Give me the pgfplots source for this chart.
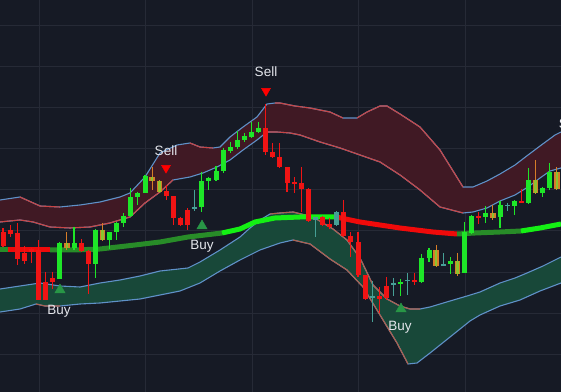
\documentclass[border=0pt]{standalone}
\usepackage{fontspec}
\setmainfont{Liberation Sans}
\usepackage{pgfplots}
\usepackage{pgfplotstable}
\pgfplotsset{compat=1.18}
\usepgfplotslibrary{fillbetween}
\definecolor{bg}{RGB}{22,26,37}
\definecolor{gridc}{RGB}{38,42,54}
\definecolor{upfill}{RGB}{64,25,36}
\definecolor{lofill}{RGB}{24,72,57}
\definecolor{bandblue}{RGB}{95,145,200}
\definecolor{bandred}{RGB}{200,70,70}
\definecolor{bandbrown}{RGB}{175,95,75}
\definecolor{mdark}{RGB}{40,140,40}
\definecolor{mbright}{RGB}{20,240,20}
\definecolor{mred}{RGB}{240,10,10}
\definecolor{cg}{RGB}{30,230,40}
\definecolor{cr}{RGB}{240,20,20}
\definecolor{co}{RGB}{215,125,40}
\definecolor{coin}{RGB}{140,195,45}
\definecolor{ct}{RGB}{70,160,150}
\definecolor{buyc}{RGB}{40,150,70}
\definecolor{sellc}{RGB}{255,0,0}
\definecolor{txt}{RGB}{228,230,236}

% candles: x, body top, body bottom, wick high, wick low (pixel rows)
\pgfplotstableread{
x t b h l
59.8 243 279 242 279
74.0 243 248 227 250
95.3 230 264 229 278
109.5 232 240 232 249
116.6 223 232 222 240
123.7 216 223 213 227
130.8 197 216 188 217
137.9 193 197 192 205
145.0 176 193 175 193
201.8 181 207 172 212
208.9 178 181 177 190
216.0 171 180 166 181
223.1 150 171 148 173
230.2 147 151 142 153
237.3 140 147 131 149
244.4 136 140 133 142
251.5 132 137 122 138
258.6 128 132 122 133
400.6 282 284 279 296
421.9 258 282 254 283
429.0 250 258 248 262
450.3 261 264 257 274
464.5 232 273 222 273
471.6 216 233 215 234
485.8 213 217 206 223
500.0 205 217 201 228
514.2 201 206 200 215
528.4 180 203 168 204
542.6 188 193 187 197
549.7 172 188 163 190
}\tG
\pgfplotstableread{
x t b h l
3.0 232 246 228 247
10.1 230 234 225 237
17.2 233 259 223 265
24.3 253 261 246 264
31.4 249 252 248 263
38.5 250 300 240 300
45.6 282 300 272 300
52.7 278 282 272 289
81.1 243 251 239 252
88.2 251 264 250 294
166.3 191 196 185 200
173.4 196 218 196 225
180.5 218 225 217 226
187.6 210 225 208 230
265.7 128 152 104 155
272.8 152 157 143 158
279.9 157 167 143 168
287.0 167 183 167 192
294.1 182 184 177 193
301.2 183 189 167 212
308.3 189 221 188 222
322.5 217 225 216 226
329.6 224 227 218 229
343.8 212 236 200 237
350.9 236 242 232 257
358.0 242 275 232 277
365.1 275 299 275 300
379.3 296 299 287 313
386.4 286 298 277 300
414.8 280 282 273 285
478.7 216 218 212 224
521.3 201 203 189 203
}\tR
\pgfplotstableread{
x t b h l
66.9 243 248 232 250
102.4 230 240 223 241
152.1 177 181 167 190
159.2 181 192 180 193
436.1 250 266 245 267
457.4 261 274 253 276
492.9 213 218 205 220
535.5 180 193 160 194
556.8 172 189 167 190
}\tO
\pgfplotstableread{
x t b h l
194.7 207 209 190 211
315.4 217 220 217 237
336.7 212 225 211 226
372.2 296 298 281 322
393.5 283 285 278 296
407.7 280 281 273 295
443.2 264 266 253 266
507.1 205 206 203 211
}\tT

% bands (pixel x, pixel y)
\pgfplotstableread{
x y
0 200
20 197
40 206
60 207
80 205
100 202
120 197
130 193
145 177
160 153
177 145
190 143
200 147
213 148
220 147
230 137
243 127
257 117
267 104
275 103
280 103
295 106
310 108
330 112
343 118
357 118
367 112
380 106
387 106
400 114
420 127
440 150
463 187
473 187
487 181
500 174
515 165
528 155
540 146
555 135
561 132
}\UT
\pgfplotstableread{
x y
0 222
20 220
33 222
50 227
70 228
90 227
110 223
130 217
145 203
160 192
173 180
190 177
203 173
217 167
230 160
243 150
257 140
267 132
277 132
290 133
300 135
320 142
340 148
360 155
380 162
400 175
420 190
440 207
463 213
473 212
487 208
500 201
515 195
528 187
540 178
550 171
561 168
}\UB
\pgfplotstableread{
x y
0 250
8 250
20 250
40 250
50 250
75 250
100 249
135 245
160 242
188 237
222 233
240 229
255 222
275 218
300 217
320 217
336 217
360 222
380 225
400 228
433 232
457 234
475 233
500 232
521 231
540 228
561 224
}\MID
\pgfplotstableread{
x y
0 289
20 286
40 283
60 286
80 287
100 283
120 280
140 276
160 271
188 268
200 262
220 250
240 237
250 228
260 220
270 214
280 213
293 212
313 217
333 229
347 240
360 258
373 285
387 299
400 306
410 309
420 309
430 307
450 301
467 296
480 292
500 283
515 278
527 273
543 266
561 257
}\LT
\pgfplotstableread{
x y
0 312
20 309
36 304
45 306
60 306
80 304
100 303
120 301
140 299
160 295
180 291
200 283
220 271
240 260
260 250
280 243
293 240
310 244
330 259
347 270
363 287
380 315
397 343
408 364
417 363
430 353
450 337
470 321
480 315
500 306
520 300
540 291
561 283
}\LB

\pgfplotsset{
  wick/.style={draw=none, mark=none, forget plot, error bars/.cd, y dir=plus, y explicit, error mark=none, error bar style={line width=1.1bp, draw=#1}},
  body/.style 2 args={draw=none, mark=none, forget plot, error bars/.cd, y dir=plus, y explicit, error mark=none, error bar style={line width=#2, draw=#1}},
}
\newcommand{\lbl}{\fontsize{13.5bp}{15bp}\selectfont}

\begin{document}
\begin{tikzpicture}
\begin{axis}[
  scale only axis, width=561bp, height=392bp,
  xmin=0, xmax=561, ymin=0, ymax=392, y dir=reverse,
  axis background/.style={fill=bg},
  axis line style={draw=none},
  major tick length=0pt,
  xtick={39,145.5,252,358.5,465},
  ytick={25,66,107,148,189.5,230.5,272,313,354},
  xticklabels={}, yticklabels={},
  grid=major, grid style={draw=gridc, line width=0.8bp},
  clip=true,
]
% band fills
\addplot[name path=ut, draw=none, forget plot] table {\UT};
\addplot[name path=ub, draw=none, forget plot] table {\UB};
\addplot[name path=lt, draw=none, forget plot] table {\LT};
\addplot[name path=lb, draw=none, forget plot] table {\LB};
\addplot[upfill, forget plot] fill between[of=ut and ub];
\addplot[lofill, forget plot] fill between[of=lt and lb];

% band lines
\addplot[bandblue, line width=1.1bp] table {\UT};
\addplot[bandred, line width=1.1bp, restrict x to domain=20:60] table {\UT};
\addplot[bandred, line width=1.1bp, restrict x to domain=190:213] table {\UT};
\addplot[bandred, line width=1.1bp, restrict x to domain=275:343] table {\UT};
\addplot[bandred, line width=1.1bp, restrict x to domain=357:463] table {\UT};
\addplot[bandblue, line width=1.1bp] table {\UB};
\addplot[bandred, line width=1.1bp, restrict x to domain=0:173] table {\UB};
\addplot[bandred, line width=1.1bp, restrict x to domain=267:463] table {\UB};
\addplot[bandblue, line width=1.1bp] table {\LT};
\addplot[bandbrown, line width=1.1bp, restrict x to domain=270:420] table {\LT};
\addplot[bandblue, line width=1.1bp] table {\LB};
\addplot[bandbrown, line width=1.1bp, restrict x to domain=36:60] table {\LB};
\addplot[bandbrown, line width=1.1bp, restrict x to domain=293:408] table {\LB};

% middle line
\addplot[mdark, line width=5bp, restrict x to domain=0:8] table {\MID};
\addplot[mred, line width=5bp, restrict x to domain=8:50] table {\MID};
\addplot[mdark, line width=5bp, restrict x to domain=50:222] table {\MID};
\addplot[mbright, line width=5bp, restrict x to domain=222:336] table {\MID};
\addplot[mred, line width=5bp, restrict x to domain=336:457] table {\MID};
\addplot[mdark, line width=5bp, restrict x to domain=457:521] table {\MID};
\addplot[mbright, line width=5bp, restrict x to domain=521:561] table {\MID};

% candles
\addplot[wick=cg] table[x=x, y=h, y error plus expr=\thisrow{l}-\thisrow{h}] {\tG};
\addplot[body={cg}{5bp}] table[x=x, y=t, y error plus expr=\thisrow{b}-\thisrow{t}] {\tG};
\addplot[wick=cr] table[x=x, y=h, y error plus expr=\thisrow{l}-\thisrow{h}] {\tR};
\addplot[body={cr}{5bp}] table[x=x, y=t, y error plus expr=\thisrow{b}-\thisrow{t}] {\tR};
\addplot[wick=co] table[x=x, y=h, y error plus expr=\thisrow{l}-\thisrow{h}] {\tO};
\addplot[body={co}{5.4bp}] table[x=x, y=t, y error plus expr=\thisrow{b}-\thisrow{t}] {\tO};
\addplot[body={coin}{2.6bp}] table[x=x, y=t, y error plus expr=\thisrow{b}-\thisrow{t}] {\tO};
\addplot[wick=ct] table[x=x, y=h, y error plus expr=\thisrow{l}-\thisrow{h}] {\tT};
\addplot[body={ct}{5bp}] table[x=x, y=t, y error plus expr=\thisrow{b}-\thisrow{t}] {\tT};

% signals
\addplot[only marks, mark=triangle*, mark size=5.2bp, color=sellc, mark options={rotate=180}] coordinates {(166,168) (266,91)};
\addplot[only marks, mark=triangle*, mark size=6bp, color=buyc] coordinates {(60,290) (202,226) (401,309)};
\node[font=\lbl, text=txt] at (axis cs:166,151) {Sell};
\node[font=\lbl, text=txt] at (axis cs:266,72) {Sell};
\node[font=\lbl, text=txt] at (axis cs:570,124) {Sell};
\node[font=\lbl, text=txt] at (axis cs:59,311) {Buy};
\node[font=\lbl, text=txt] at (axis cs:202,246) {Buy};
\node[font=\lbl, text=txt] at (axis cs:400,327) {Buy};
\end{axis}
\pgfresetboundingbox
\useasboundingbox (0,0) rectangle (561bp,392bp);
\end{tikzpicture}
\end{document}
